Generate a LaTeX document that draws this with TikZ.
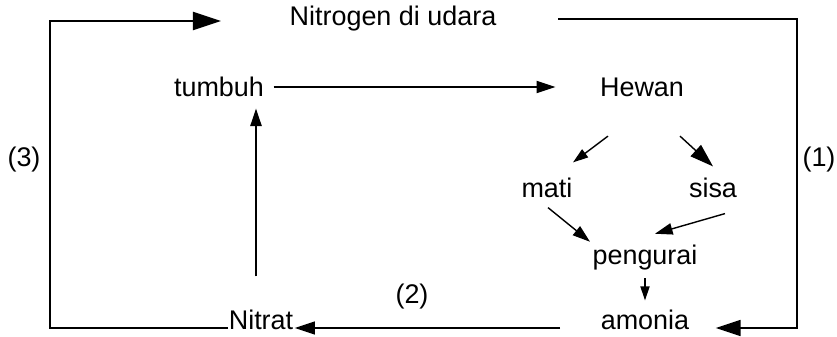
\documentclass[tikz,border=0pt]{standalone}
\usepackage{fontspec}
\setmainfont{Liberation Sans}
\usetikzlibrary{calc,arrows.meta}

\begin{document}
\begin{tikzpicture}[x=0.03cm,y=-0.03cm,line width=1.2pt,
  lbl/.style={font=\fontsize{23}{27}\selectfont,inner sep=0pt},
  flow/.style={-{Triangle[length=#1,width'=0pt 0.65]}},flow/.default=13pt]
  \useasboundingbox (0,0) rectangle (837,337);
  % Stations of the cycle
  \node[lbl] (nitrogen) at (393,19) {Nitrogen di udara};
  \node[lbl] (tumbuh) at (219,87) {tumbuh};
  \node[lbl] (hewan) at (642,87) {Hewan};
  \node[lbl] (mati) at (547,188) {mati};
  \node[lbl] (sisa) at (713,188) {sisa};
  \node[lbl] (pengurai) at (645,258) {pengurai};
  \node[lbl] (amonia) at (645,320) {amonia};
  \node[lbl] (nitrat) at (261,320) {Nitrat};
  % Step numbers
  \node[lbl] (n1) at (819,160) {(1)};
  \node[lbl] (n2) at (412,297) {(2)};
  \node[lbl] (n3) at (24,160) {(3)};
  % Corners of the outer loop
  \coordinate (sw) at (50,328);
  \coordinate (se) at (797,328);
  % Outer loop
  \draw[flow=24pt] (sw -| nitrat.west) -- (sw) |- ($(nitrogen.west)+(-68,2)$);
  \draw[flow=21pt] ($(nitrogen.east)+(61,0)$) -| (se) -- ($(se -| amonia.east)+(26,0)$);
  \draw[flow=17pt] ($(sw -| amonia.west)+(-40,0)$) -- ($(sw -| nitrat.east)+(1,0)$);
  % Inner paths
  \draw[flow=16pt] ($(tumbuh.east)+(9,0)$) -- ($(hewan.west)+(-44,0)$);
  \draw[flow=15pt] ($(nitrat.north)+(-5,-33)$) -- ($(tumbuh.south -| nitrat.north)+(-5,11)$);
  \draw[flow=13pt] ($(hewan.south)+(-34,39)$) -- ($(mati.north)+(26,-15)$);
  \draw[flow=20pt] ($(hewan.south)+(38,39)$) -- ($(sisa.north)+(0,-11)$);
  \draw[flow=15pt] ($(mati.south)+(1,9)$) -- ($(pengurai.north)+(-55,-3)$);
  \draw[flow=15pt] ($(sisa.south)+(12,15)$) -- ($(pengurai.north)+(10,-11)$);
  \draw[flow=12pt] ($(pengurai.south)+(0,7)$) -- ($(amonia.north)+(0,-9)$);
\end{tikzpicture}
\end{document}
